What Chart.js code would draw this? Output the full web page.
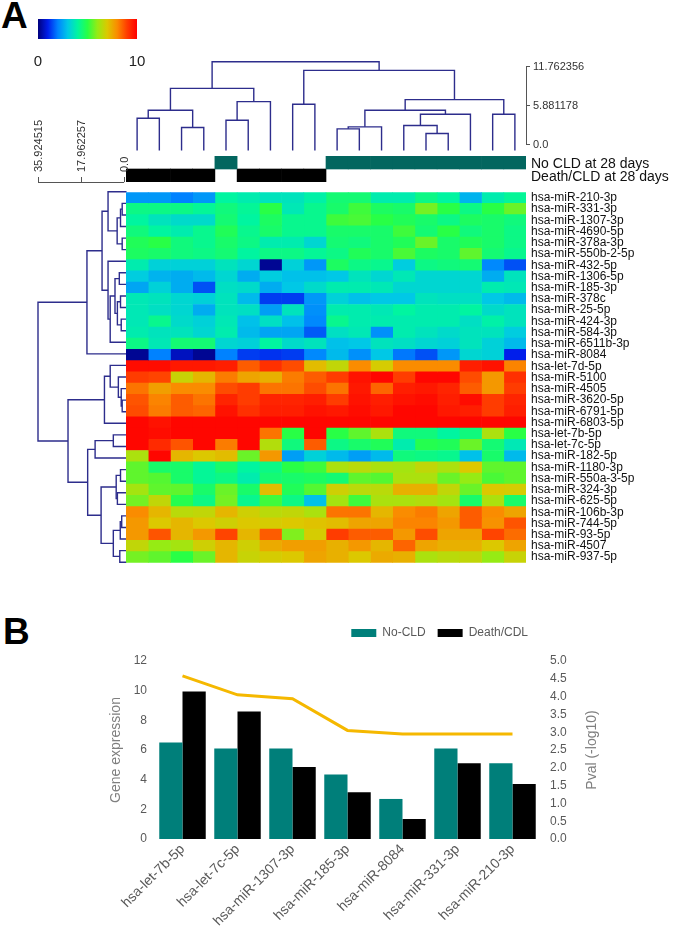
<!DOCTYPE html>
<html>
<head>
<meta charset="utf-8">
<script src="https://cdn.jsdelivr.net/npm/chart.js@4.4.0/dist/chart.umd.min.js"></script>
<style>
  html, body { margin: 0; padding: 0; background: #fff; }
  #page { position: relative; width: 675px; height: 937px; overflow: hidden; font-family: "Liberation Sans", Arial, sans-serif; }
  #page canvas { position: absolute; left: 0; }
  .panel { position: absolute; font-weight: bold; font-size: 37px; line-height: 1; color: #000; }
</style>
</head>
<body>
<div id="page">
  <div class="panel" style="left:1px;top:-3px">A</div>
  <div class="panel" style="left:3px;top:613px">B</div>
  <canvas id="colorBar" style="top:0px" width="675" height="80"></canvas>
  <canvas id="colTree" style="top:50px" width="675" height="110"></canvas>
  <canvas id="groupBar" style="top:130px" width="675" height="70"></canvas>
  <canvas id="rowTree" style="top:90px" width="675" height="480"></canvas>
  <canvas id="heatmap" style="top:180px" width="675" height="395"></canvas>
  <canvas id="panelB" style="top:590px" width="675" height="347"></canvas>
</div>
<script>
///////////// DATA - panel A
const ROW_NAMES = ['hsa-miR-210-3p', 'hsa-miR-331-3p', 'hsa-miR-1307-3p', 'hsa-miR-4690-5p', 'hsa-miR-378a-3p',
  'hsa-miR-550b-2-5p', 'hsa-miR-432-5p', 'hsa-miR-1306-5p', 'hsa-miR-185-3p', 'hsa-miR-378c', 'hsa-miR-25-5p',
  'hsa-miR-424-3p', 'hsa-miR-584-3p', 'hsa-miR-6511b-3p', 'hsa-miR-8084', 'hsa-let-7d-5p', 'hsa-miR-5100',
  'hsa-miR-4505', 'hsa-miR-3620-5p', 'hsa-miR-6791-5p', 'hsa-miR-6803-5p', 'hsa-let-7b-5p', 'hsa-let-7c-5p',
  'hsa-miR-182-5p', 'hsa-miR-1180-3p', 'hsa-miR-550a-3-5p', 'hsa-miR-324-3p', 'hsa-miR-625-5p', 'hsa-miR-106b-3p',
  'hsa-miR-744-5p', 'hsa-miR-93-5p', 'hsa-miR-4507', 'hsa-miR-937-5p'];

// sample groups, one per heatmap column (D = Death/CLD, N = No CLD)
const GROUPS = ['D', 'D', 'D', 'D', 'N', 'D', 'D', 'D', 'D', 'N', 'N', 'N', 'N', 'N', 'N', 'N', 'N', 'N'];
const GROUP_LABELS = ['No CLD at 28 days', 'Death/CLD at 28 days'];

// expression, one row per miRNA, one value per sample column
const HEAT = [
  [2.3, 2.3, 2.0, 2.3, 4.0, 3.8, 3.6, 3.6, 3.9, 4.5, 4.5, 3.8, 3.8, 4.3, 4.0, 2.7, 3.8, 4.1],
  [4.3, 4.3, 4.3, 4.1, 4.4, 4.1, 5.0, 3.7, 4.2, 4.6, 5.2, 4.7, 4.6, 5.7, 5.0, 4.3, 5.0, 5.6],
  [4.0, 3.6, 3.4, 3.4, 4.5, 4.0, 4.7, 4.2, 4.2, 5.2, 5.3, 5.0, 4.8, 4.6, 4.3, 4.7, 4.6, 4.4],
  [4.4, 4.0, 3.8, 4.2, 4.8, 4.2, 4.6, 4.2, 4.2, 4.6, 4.6, 4.6, 5.2, 4.5, 5.0, 4.4, 4.6, 4.3],
  [4.8, 5.0, 4.4, 4.2, 4.6, 4.3, 3.8, 3.8, 3.3, 4.5, 4.4, 4.6, 4.8, 5.6, 4.6, 4.8, 4.6, 4.3],
  [4.7, 4.6, 4.4, 4.3, 4.5, 4.0, 4.3, 4.3, 4.1, 4.3, 4.8, 4.6, 5.3, 4.7, 4.6, 5.5, 4.5, 4.2],
  [3.8, 3.2, 3.2, 3.2, 3.6, 3.3, 0.2, 3.2, 2.3, 4.7, 4.3, 4.2, 3.1, 4.3, 4.4, 4.5, 2.1, 1.5],
  [3.1, 2.7, 2.6, 2.8, 3.3, 2.6, 3.1, 2.9, 2.9, 3.0, 3.6, 3.3, 3.7, 3.3, 3.3, 3.3, 2.6, 3.6],
  [2.5, 3.2, 2.6, 1.5, 3.5, 3.4, 2.6, 3.0, 3.4, 3.8, 3.8, 3.7, 3.3, 3.3, 3.3, 3.3, 3.8, 3.7],
  [3.7, 3.6, 3.3, 3.2, 3.6, 2.8, 1.3, 1.3, 2.3, 3.2, 2.9, 3.0, 3.0, 3.6, 3.5, 3.5, 3.0, 2.8],
  [3.7, 3.5, 3.3, 2.6, 3.6, 3.5, 2.4, 3.6, 2.2, 3.8, 3.8, 3.7, 4.0, 3.8, 3.8, 4.0, 3.4, 3.6],
  [3.7, 4.2, 3.4, 3.2, 3.7, 2.9, 3.5, 2.9, 2.1, 4.2, 3.8, 3.8, 3.8, 3.8, 3.8, 3.5, 3.9, 3.6],
  [3.8, 3.6, 3.6, 3.3, 3.8, 2.8, 2.5, 2.5, 1.6, 3.5, 3.7, 2.2, 3.8, 3.6, 3.4, 3.6, 3.6, 3.1],
  [4.3, 3.7, 4.5, 4.5, 3.3, 3.2, 4.0, 3.4, 3.6, 2.9, 3.0, 3.6, 3.5, 3.3, 3.2, 3.6, 3.2, 2.8],
  [0.2, 2.0, 0.6, 0.2, 2.0, 1.3, 1.2, 1.3, 2.1, 2.8, 2.2, 3.0, 1.9, 1.5, 2.3, 3.3, 3.2, 1.0],
  [9.8, 9.8, 9.6, 9.6, 9.5, 8.6, 9.2, 8.8, 7.2, 6.6, 8.0, 6.9, 8.0, 8.0, 8.0, 9.5, 9.7, 8.1],
  [9.0, 8.9, 6.7, 7.3, 8.2, 7.6, 7.4, 8.2, 8.6, 9.0, 9.7, 9.9, 9.0, 9.9, 9.9, 8.8, 7.8, 9.2],
  [8.3, 7.7, 8.0, 8.0, 8.8, 9.0, 8.3, 8.3, 8.8, 8.3, 9.6, 8.5, 9.5, 9.6, 9.4, 8.6, 7.8, 9.0],
  [8.7, 8.1, 8.6, 8.3, 9.4, 9.0, 9.4, 9.4, 9.5, 9.0, 9.7, 9.5, 9.7, 9.8, 9.5, 9.8, 9.0, 9.4],
  [8.8, 8.2, 8.6, 8.5, 9.7, 9.2, 9.5, 9.5, 9.7, 9.6, 9.8, 9.6, 9.9, 9.9, 9.6, 9.5, 9.0, 9.5],
  [9.9, 9.7, 9.9, 9.9, 9.9, 9.9, 9.9, 9.9, 9.9, 9.9, 9.9, 9.9, 9.9, 9.9, 9.9, 9.9, 9.9, 9.9],
  [9.9, 9.8, 9.9, 9.9, 9.9, 9.9, 8.3, 5.0, 9.9, 5.0, 5.5, 6.3, 4.4, 4.4, 4.0, 4.4, 6.3, 5.0],
  [9.9, 9.3, 8.7, 9.9, 8.2, 9.9, 6.4, 4.4, 8.6, 4.3, 4.6, 4.8, 3.8, 4.9, 4.8, 5.6, 4.5, 3.7],
  [6.3, 9.9, 7.3, 7.0, 7.2, 5.6, 7.8, 2.4, 3.2, 2.8, 2.4, 2.8, 4.4, 4.3, 4.2, 2.9, 4.6, 2.8],
  [5.5, 4.6, 4.6, 4.1, 4.6, 4.0, 4.3, 5.0, 5.2, 6.3, 6.5, 6.3, 6.2, 6.6, 6.3, 7.0, 5.5, 5.5],
  [5.5, 5.4, 4.6, 4.1, 4.3, 3.8, 4.5, 4.6, 4.7, 4.5, 5.5, 5.4, 6.3, 6.3, 5.6, 6.0, 5.3, 5.5],
  [6.2, 5.5, 5.5, 4.6, 5.6, 4.6, 7.2, 4.8, 5.4, 6.8, 6.5, 6.5, 7.4, 7.4, 6.6, 5.6, 7.0, 6.9],
  [5.7, 6.6, 4.9, 4.3, 5.7, 4.2, 5.2, 4.3, 2.9, 6.2, 5.2, 6.3, 6.3, 6.4, 6.2, 4.6, 6.3, 4.6],
  [8.0, 7.3, 6.5, 6.6, 7.3, 6.8, 6.5, 6.6, 6.3, 8.3, 8.3, 7.3, 8.0, 8.2, 7.6, 8.6, 8.0, 7.6],
  [7.8, 7.0, 7.3, 7.0, 6.8, 7.0, 6.9, 7.0, 7.1, 7.2, 7.6, 7.6, 8.1, 8.1, 7.8, 8.6, 7.9, 8.7],
  [7.8, 8.7, 7.3, 7.8, 8.9, 7.3, 8.6, 5.8, 6.9, 9.0, 8.6, 8.6, 7.8, 8.8, 7.6, 7.6, 8.9, 8.4],
  [6.6, 6.0, 6.2, 6.8, 7.3, 6.8, 7.5, 7.7, 7.7, 7.4, 7.8, 7.3, 8.5, 7.6, 7.4, 7.4, 7.0, 7.6],
  [5.7, 5.5, 5.0, 5.6, 7.3, 6.7, 6.9, 7.0, 7.6, 7.4, 7.0, 7.5, 7.4, 6.3, 6.5, 6.6, 6.0, 6.7]
];

// dendrogram merges: [a, b, height]; positive = leaf number, negative = earlier merge (-1 = first)
const ROW_TREE = [
  [2, 3, 0.8], [-1, 4, 1.5], [5, 6, 0.8], [-2, -3, 2.9], [1, -4, 6.7],
  [8, 9, 2.0], [10, 11, 1.5], [12, 13, 1.2], [-7, -8, 2.8], [-6, -9, 3.8], [-10, 14, 5.8], [7, -11, 6.7],
  [-5, -12, 9.2], [-13, 15, 15.5],
  [19, 20, 0.8], [18, -15, 1.2], [17, -16, 2.4], [16, -17, 5.8], [-18, 21, 8.2],
  [22, 23, 4.5], [-20, 24, 12.1],
  [25, 26, 1.5], [27, 28, 2.8], [-22, -23, 3.3], [29, 30, 1.0], [-25, 31, 1.6], [32, 33, 1.8], [-26, -27, 4.5],
  [-24, -28, 9.6], [-21, -29, 15.2], [-19, -30, 23.4], [-14, -31, 35.924515]
];
const COL_TREE = [
  [1, 2, 4.0], [3, 4, 2.6], [-1, -2, 5.2], [5, 6, 3.7], [-4, 7, 6.5], [-3, -5, 8.5],
  [8, 9, 6.1], [10, 11, 2.4], [-8, 12, 2.7], [14, 15, 1.7], [13, -10, 2.9], [-11, 16, 4.6],
  [-9, -12, 5.2], [17, 18, 4.6], [-13, -14, 6.8], [-7, -15, 11.2], [-6, -16, 12.5]
];
const ROW_AXIS_TICKS = [0, 17.962257, 35.924515];
const COL_AXIS_TICKS = [0, 5.881178, 11.762356];

// colour key, value -> rgb
const COLOR_STOPS = [
  [0, [0, 0, 125]], [1, [0, 30, 235]], [2, [0, 130, 255]], [3, [0, 200, 230]], [4, [0, 245, 160]],
  [5, [40, 255, 70]], [6, [150, 235, 20]], [7, [220, 200, 0]], [8, [250, 140, 0]], [9, [255, 60, 0]], [10, [255, 0, 0]]
];

///////////// DATA - panel B
const B_LABELS = ['hsa-let-7b-5p', 'hsa-let-7c-5p', 'hsa-miR-1307-3p', 'hsa-miR-185-3p', 'hsa-miR-8084', 'hsa-miR-331-3p', 'hsa-miR-210-3p'];
const NO_CLD = [6.5, 6.1, 6.1, 4.35, 2.7, 6.1, 5.1];
const DEATH_CDL = [9.95, 8.6, 4.85, 3.15, 1.35, 5.1, 3.7];
const PVAL = [4.58, 4.05, 3.94, 3.05, 2.95, 2.95, 2.95];

///////////// helpers
Chart.defaults.font.family = '"Liberation Sans", Arial, sans-serif';
Chart.defaults.animation = false;
Chart.defaults.responsive = false;
Chart.defaults.devicePixelRatio = 1;
Chart.defaults.plugins.legend.display = false;
Chart.defaults.plugins.tooltip.enabled = false;

const TREE_COLOR = '#2d2d8c';
const AXIS_GREY = '#555';
const NO_GRID = {display: false, drawTicks: false};

function rgbStr(c) { return 'rgb(' + c.join(',') + ')'; }

function heatColor(v) {
  const s = COLOR_STOPS;
  if (v <= s[0][0]) return rgbStr(s[0][1]);
  for (let i = 1; i < s.length; i++) {
    if (v <= s[i][0]) {
      const t = (v - s[i - 1][0]) / (s[i][0] - s[i - 1][0]);
      const a = s[i - 1][1], b = s[i][1];
      return rgbStr(a.map((c, k) => Math.round(c + (b[k] - c) * t)));
    }
  }
  return rgbStr(s[s.length - 1][1]);
}

// turn merge list into one 4-point polyline per merge, as {pos, h}
function treeSegments(merges, leafPos, leafBase) {
  const pos = [], hgt = [];
  const node = id => id > 0 ? {p: leafPos(id), h: leafBase} : {p: pos[-id - 1], h: hgt[-id - 1]};
  return merges.map(([a, b, h]) => {
    const A = node(a), B = node(b);
    pos.push((A.p + B.p) / 2);
    hgt.push(h);
    return [{p: A.p, h: A.h}, {p: A.p, h: h}, {p: B.p, h: h}, {p: B.p, h: B.h}];
  });
}

function tickLabel(v) { return v === 0 ? '0.0' : String(v); }

// draws an axis line only between two values of a scale
const axisLine = {
  id: 'axisLine',
  afterDraw(chart, args, opts) {
    const s = chart.scales[opts.scale];
    if (!s) return;
    const ctx = chart.ctx;
    ctx.save();
    ctx.strokeStyle = opts.color;
    ctx.lineWidth = 1;
    ctx.beginPath();
    if (s.isHorizontal()) {
      const y = s.options.position === 'top' ? s.bottom : s.top;
      ctx.moveTo(s.getPixelForValue(opts.from), y + 0.5);
      ctx.lineTo(s.getPixelForValue(opts.to), y + 0.5);
    } else {
      const x = s.options.position === 'right' ? s.left : s.right;
      ctx.moveTo(x + 0.5, s.getPixelForValue(opts.from));
      ctx.lineTo(x + 0.5, s.getPixelForValue(opts.to));
    }
    ctx.stroke();
    ctx.restore();
  }
};

///////////// colour key
new Chart(document.getElementById('colorBar'), {
  type: 'bar',
  data: {
    labels: ['key'],
    datasets: [{
      data: [[0, 10]],
      backgroundColor: (c) => {
        const area = c.chart.chartArea;
        if (!area) return '#fff';
        const g = c.chart.ctx.createLinearGradient(area.left, 0, area.right, 0);
        COLOR_STOPS.forEach(([v, col]) => g.addColorStop(v / 10, rgbStr(col)));
        return g;
      },
      barPercentage: 1, categoryPercentage: 1
    }]
  },
  options: {
    indexAxis: 'y',
    layout: {padding: {left: 38, right: 538, top: 19, bottom: 0}},
    scales: {
      x: {
        type: 'linear', min: 0, max: 10,
        afterBuildTicks: s => { s.ticks = [{value: 0}, {value: 10}]; },
        afterFit: s => { s.height = 41; },
        grid: {display: false}, border: {display: false},
        ticks: {font: {size: 15}, color: '#222', padding: 6}
      },
      y: {display: false}
    }
  }
});

///////////// column dendrogram
const colSegs = treeSegments(COL_TREE, i => i - 0.5, -0.85);
new Chart(document.getElementById('colTree'), {
  type: 'scatter',
  data: {
    datasets: colSegs.map(seg => ({
      data: seg.map(q => ({x: q.p, y: q.h})),
      showLine: true, pointRadius: 0, borderColor: TREE_COLOR, borderWidth: 1.4, clip: false
    }))
  },
  options: {
    layout: {padding: {left: 126, right: 0, top: 11, bottom: 9}},
    scales: {
      x: {min: 0, max: 18, display: false},
      y: {
        min: -0.85, max: 12.62, position: 'right',
        afterBuildTicks: s => { s.ticks = COL_AXIS_TICKS.map(v => ({value: v})); },
        afterFit: s => { s.width = 149; },
        grid: {display: true, drawOnChartArea: false, tickLength: 4, color: AXIS_GREY},
        border: {display: false},
        ticks: {font: {size: 11}, color: '#333', padding: 3, callback: tickLabel}
      }
    },
    plugins: {axisLine: {scale: 'y', from: 0, to: COL_AXIS_TICKS[2], color: AXIS_GREY}}
  },
  plugins: [axisLine]
});

///////////// group annotation bars
new Chart(document.getElementById('groupBar'), {
  type: 'bar',
  data: {
    labels: GROUPS.map((g, i) => 'S' + (i + 1)),
    datasets: [
      {data: GROUPS.map(g => g === 'N' ? [1, 2] : null), backgroundColor: '#03665f'},
      {data: GROUPS.map(g => g === 'D' ? [0, 1] : null), backgroundColor: '#000000'}
    ]
  },
  options: {
    layout: {padding: {left: 126, right: 0, top: 26, bottom: 18}},
    datasets: {bar: {grouped: false, barPercentage: 1, categoryPercentage: 1}},
    scales: {
      x: {display: false},
      y: {display: false, min: 0, max: 2},
      yGroup: {
        type: 'category', axis: 'y', position: 'right', labels: GROUP_LABELS, offset: true,
        afterFit: s => { s.width = 149; },
        grid: NO_GRID, border: {display: false},
        ticks: {font: {size: 14}, color: '#111', padding: 5, autoSkip: false, labelOffset: 2}
      }
    }
  }
});

///////////// row dendrogram
const ROW_PX = (568 - 186) / ROW_NAMES.length;
const ROW_MIN = 0.5 - 4 / ROW_PX;   // axis sits 4px above first row
const rowSegs = treeSegments(ROW_TREE, i => i, -1.0);
new Chart(document.getElementById('rowTree'), {
  type: 'scatter',
  data: {
    datasets: rowSegs.map(seg => ({
      data: seg.map(q => ({x: q.h, y: q.p})),
      showLine: true, pointRadius: 0, borderColor: TREE_COLOR, borderWidth: 1.4, clip: false
    }))
  },
  options: {
    layout: {padding: {left: 38, right: 548.5, top: 0, bottom: 2}},
    scales: {
      x: {
        min: -1.0, max: ROW_AXIS_TICKS[2], reverse: true, position: 'top',
        afterBuildTicks: s => { s.ticks = ROW_AXIS_TICKS.map(v => ({value: v})); },
        afterFit: s => { s.height = 92; },
        grid: {display: true, drawOnChartArea: false, tickLength: 5, color: AXIS_GREY},
        border: {display: false},
        ticks: {font: {size: 11}, color: '#333', padding: 5, minRotation: 90, maxRotation: 90,
                autoSkip: false, labelOffset: 14, callback: tickLabel}
      },
      y: {min: ROW_MIN, max: ROW_NAMES.length + 0.5, reverse: true, display: false}
    },
    plugins: {axisLine: {scale: 'x', from: 0, to: ROW_AXIS_TICKS[2], color: AXIS_GREY}}
  },
  plugins: [axisLine]
});

///////////// heatmap
new Chart(document.getElementById('heatmap'), {
  type: 'bar',
  data: {
    labels: ROW_NAMES,
    datasets: GROUPS.map((g, c) => ({
      data: ROW_NAMES.map(() => [c, c + 1]),
      backgroundColor: HEAT.map(row => heatColor(row[c])),
      borderWidth: 0
    }))
  },
  options: {
    indexAxis: 'y',
    layout: {padding: {left: 126, right: 0, top: 6, bottom: 7}},
    datasets: {bar: {grouped: false, barPercentage: 1, categoryPercentage: 1}},
    scales: {
      x: {type: 'linear', min: 0, max: GROUPS.length, display: false},
      y: {
        position: 'right',
        afterFit: s => { s.width = 149; },
        grid: NO_GRID, border: {display: false},
        ticks: {font: {size: 12}, color: '#111', padding: 5, autoSkip: false}
      }
    }
  }
});

///////////// panel B
const rightTitle = {
  id: 'rightTitle',
  afterDraw(chart, args, opts) {
    const s = chart.scales.y1;
    const ctx = chart.ctx;
    ctx.save();
    ctx.translate(s.left + opts.offset, (chart.chartArea.top + chart.chartArea.bottom) / 2);
    ctx.rotate(-Math.PI / 2);
    ctx.font = '14px "Liberation Sans", Arial, sans-serif';
    ctx.fillStyle = opts.color;
    ctx.textAlign = 'center';
    ctx.textBaseline = 'middle';
    ctx.fillText(opts.text, 0, 0);
    ctx.restore();
  }
};

new Chart(document.getElementById('panelB'), {
  type: 'bar',
  data: {
    labels: B_LABELS,
    datasets: [
      {type: 'line', label: 'Pval', data: PVAL, yAxisID: 'y1', borderColor: '#f5b800', borderWidth: 3,
       pointRadius: 0, tension: 0, order: 0},
      {label: 'No-CLD', data: NO_CLD, backgroundColor: '#007f7a', yAxisID: 'y', order: 1},
      {label: 'Death/CDL', data: DEATH_CDL, backgroundColor: '#000000', yAxisID: 'y', order: 1}
    ]
  },
  options: {
    layout: {padding: {left: 104, right: 0, top: 25, bottom: 0}},
    datasets: {bar: {barPercentage: 1, categoryPercentage: 0.845}},
    scales: {
      x: {
        afterFit: s => { s.height = 98; },
        grid: NO_GRID, border: {display: false},
        ticks: {font: {size: 14}, color: '#595959', minRotation: 45, maxRotation: 45, autoSkip: false, padding: 2}
      },
      y: {
        min: 0, max: 12,
        afterFit: s => { s.width = 51; },
        grid: NO_GRID, border: {display: false},
        ticks: {stepSize: 2, font: {size: 12}, color: '#595959', padding: 8},
        title: {display: true, text: 'Gene expression', font: {size: 14}, color: '#7f7f7f'}
      },
      y1: {
        min: 0, max: 5, position: 'right',
        afterFit: s => { s.width = 135; },
        grid: NO_GRID, border: {display: false},
        ticks: {stepSize: 0.5, font: {size: 12}, color: '#595959', padding: 10, callback: v => v.toFixed(1)}
      }
    },
    plugins: {
      legend: {
        display: true, position: 'top', align: 'end', fullSize: false, weight: 3000,
        labels: {
          boxWidth: 25, boxHeight: 8, padding: 12, color: '#595959', font: {size: 12},
          filter: item => item.datasetIndex > 0
        }
      },
      title: {display: true, text: '', font: {size: 10}, padding: 0},
      rightTitle: {text: 'Pval (-log10)', offset: 52, color: '#7f7f7f'}
    }
  },
  plugins: [rightTitle]
});
</script>
</body>
</html>
